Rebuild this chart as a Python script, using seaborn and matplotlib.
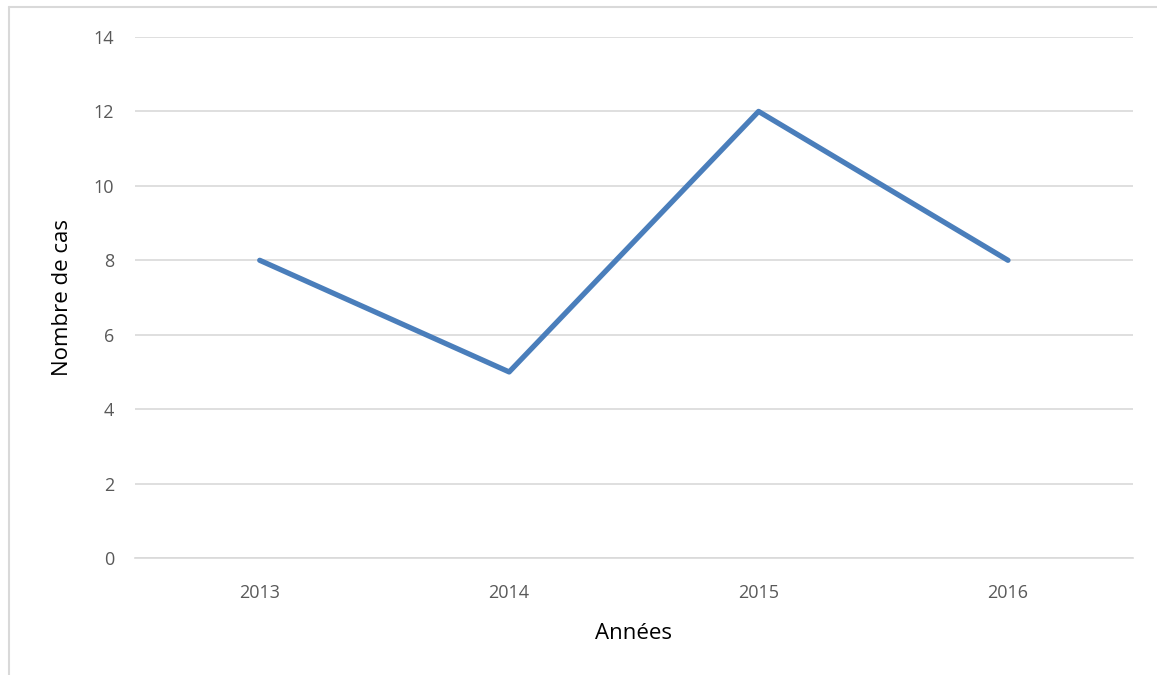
import matplotlib
matplotlib.use("Agg")
import matplotlib.pyplot as plt
import seaborn as sns
import pandas as pd
from matplotlib.lines import Line2D

# data
annees = ["2013", "2014", "2015", "2016"]
nombre_cas = [8, 5, 12, 8]

df = pd.DataFrame({"Années": annees, "Nombre de cas": nombre_cas})

sns.set_theme(style="white")
plt.rcParams["font.family"] = ["Open Sans", "DejaVu Sans"]

fig = plt.figure(figsize=(11.57, 6.75), dpi=100)
ax = fig.add_axes([0.1167, 0.1733, 0.8623, 0.7719])

sns.lineplot(data=df, x="Années", y="Nombre de cas", sort=False,
             color="#4A7EBB", linewidth=3.8, ax=ax)

ax.set_xlim(-0.5, 3.5)
ax.set_ylim(0, 14)
ax.set_yticks(range(0, 15, 2))
ax.yaxis.grid(True, color="#D9D9D9", linewidth=1.2)
ax.set_axisbelow(True)
for s in ["top", "right", "left"]:
    ax.spines[s].set_visible(False)
ax.spines["bottom"].set_color("#D9D9D9")
ax.spines["bottom"].set_linewidth(1.2)
ax.tick_params(axis="both", length=0, labelsize=13, labelcolor="#595959")
ax.tick_params(axis="y", pad=15)
ax.tick_params(axis="x", pad=19)
ax.set_xlabel("Années", fontsize=16, color="black", labelpad=15)
ax.set_ylabel("Nombre de cas", fontsize=16, color="black", labelpad=15)

# outer chart border (left and top edges)
fig.add_artist(Line2D([9/1157, 9/1157], [0, 1 - 7/675], color="#D9D9D9", linewidth=1.5))
fig.add_artist(Line2D([9/1157, 1], [1 - 7/675, 1 - 7/675], color="#D9D9D9", linewidth=1.5))

fig.savefig("out.png", dpi=100)
